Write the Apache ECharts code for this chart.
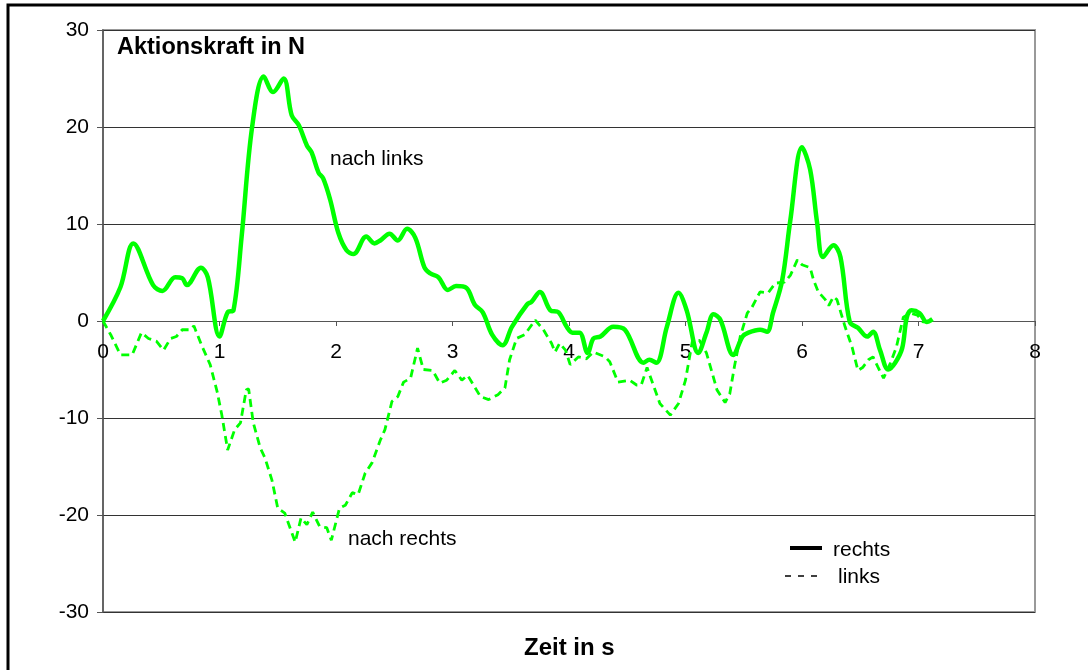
<!DOCTYPE html>
<html lang="de">
<head>
  <meta charset="UTF-8">
  <title>Aktionskraft in N</title>
  <script src="https://cdn.jsdelivr.net/npm/echarts@6/dist/echarts.min.js"></script>
  <style>
    body { margin: 0; padding: 0; background: #fff; }
    #chart { width: 1088px; height: 670px; }
  </style>
</head>
<body>
  <div id="chart"></div>
  <script>
    // Zeitachse (s) und Kraft (N)
    var timeRechts = [0, 0.15, 0.26, 0.43, 0.51, 0.62, 0.68, 0.72, 0.84, 0.90, 1.0, 1.07, 1.12, 1.19,
      1.28, 1.38, 1.46, 1.55, 1.62, 1.68, 1.75, 1.79, 1.85, 1.89, 1.95, 2.02, 2.09, 2.15, 2.26, 2.33,
      2.38, 2.46, 2.53, 2.61, 2.68, 2.76, 2.81, 2.88, 2.96, 3.03, 3.12, 3.19, 3.26, 3.34, 3.43, 3.51,
      3.64, 3.68, 3.75, 3.84, 3.91, 3.98, 4.03, 4.09, 4.16, 4.21, 4.27, 4.38, 4.48, 4.64, 4.69, 4.75,
      4.84, 4.94, 5.01, 5.11, 5.18, 5.24, 5.30, 5.41, 5.49, 5.54, 5.64, 5.70, 5.75, 5.83, 5.90, 6.0,
      6.07, 6.13, 6.18, 6.27, 6.33, 6.41, 6.48, 6.56, 6.61, 6.67, 6.74, 6.80, 6.86, 6.90, 6.94, 7.01,
      7.07, 7.12];
    var forceRechts = [0, 3.5, 8.0, 3.7, 3.1, 4.5, 4.4, 3.7, 5.5, 4.5, -1.6, 0.9, 1.1, 8.7,
      20, 25.2, 23.6, 25, 21.2, 20.2, 18.1, 17.4, 15.3, 14.7, 12.5, 9.1, 7.3, 6.9, 8.7, 8.0,
      8.3, 9.0, 8.3, 9.5, 8.6, 5.5, 4.9, 4.5, 3.2, 3.6, 3.4, 1.7, 0.9, -1.4, -2.5, -0.6,
      1.7, 2.0, 3.0, 1.1, 0.9, -0.6, -1.2, -1.2, -3.3, -1.8, -1.6, -0.6, -0.9, -4.3, -4.0, -4.3,
      -0.6, 2.9, 1.1, -3.3, -1.2, 0.7, 0.1, -3.5, -1.6, -1.2, -0.9, -1.1, 0.8, 4.2, 10.4, 17.9,
      15.6, 10.1, 6.6, 7.8, 6.6, -0.1, -0.7, -1.6, -1.1, -3.0, -5.0, -4.3, -2.8, 0.4, 1.1, 0.8,
      -0.1, 0.2];

    var timeLinks = [0, 0.07, 0.15, 0.25, 0.33, 0.39, 0.46, 0.52, 0.58, 0.63, 0.68, 0.75, 0.78, 0.85,
      0.92, 0.98, 1.02, 1.07, 1.13, 1.18, 1.23, 1.25, 1.29, 1.35, 1.39, 1.45, 1.50, 1.56, 1.65, 1.70,
      1.75, 1.80, 1.86, 1.92, 1.96, 2.03, 2.08, 2.14, 2.19, 2.25, 2.31, 2.38, 2.42, 2.48, 2.53, 2.58,
      2.64, 2.70, 2.75, 2.83, 2.89, 2.95, 3.02, 3.08, 3.13, 3.24, 3.31, 3.39, 3.45, 3.49, 3.55, 3.62,
      3.71, 3.78, 3.85, 3.88, 3.92, 3.97, 4.01, 4.08, 4.15, 4.21, 4.31, 4.35, 4.42, 4.52, 4.58, 4.62,
      4.67, 4.78, 4.87, 4.94, 5.0, 5.06, 5.12, 5.18, 5.27, 5.34, 5.38, 5.42, 5.47, 5.53, 5.57, 5.64,
      5.71, 5.77, 5.85, 5.90, 5.96, 6.0, 6.07, 6.10, 6.14, 6.20, 6.23, 6.27, 6.30, 6.37, 6.43, 6.48,
      6.52, 6.57, 6.61, 6.65, 6.70, 6.76, 6.81, 6.87, 6.93, 6.99, 7.04, 7.08];
    var forceLinks = [0, -1.5, -3.5, -3.5, -1.2, -1.8, -2.1, -3.0, -1.8, -1.6, -0.9, -0.9, -0.5, -2.6,
      -4.5, -7.3, -9.7, -13.3, -11.2, -10.5, -7.1, -7.0, -10.5, -13.1, -14.1, -16.4, -19.3, -19.8, -22.8, -20.3,
      -21.0, -19.7, -21.2, -21.3, -22.6, -19.3, -19.0, -17.7, -17.9, -15.7, -14.6, -12.3, -11.2, -8.3, -7.8, -6.3,
      -5.9, -2.8, -5.0, -5.1, -6.4, -6.1, -5.1, -6.1, -5.6, -7.8, -8.1, -7.6, -6.9, -4.0, -1.8, -1.4,
      0.1, -0.9, -2.3, -3.2, -2.3, -3.0, -4.5, -3.7, -3.9, -3.2, -3.7, -4.2, -6.3, -6.1, -6.6, -6.6,
      -4.8, -8.5, -9.7, -8.5, -6.1, -2.0, -2.0, -3.3, -7.1, -8.4, -7.5, -4.7, -1.6, 0.8, 1.4, 3.0,
      2.9, 3.9, 4.0, 4.7, 6.3, 5.8, 5.5, 4.2, 3.0, 2.2, 1.6, 2.5, 2.2, -0.6, -2.7, -5.1,
      -4.8, -4.0, -3.7, -4.7, -5.9, -4.3, -2.7, 0.4, 0.8, 0.6, -0.1, -0.1];

    var xTicks = [0, 1, 2, 3, 4, 5, 6, 7, 8];
    var yTicks = [-30, -20, -10, 0, 10, 20, 30];

    function zip(a, b) {
      return a.map(function (v, i) { return [v, b[i]]; });
    }

    var chart = echarts.init(document.getElementById('chart'));
    var font = '"Liberation Sans", Arial, sans-serif';
    var plotH = 670 - 30 - 58;

    var option = {
      animation: false,
      textStyle: { fontFamily: font },
      grid: {
        left: 103, right: 53, top: 30, bottom: 58,
        show: true, borderColor: '#999', borderWidth: 2
      },
      xAxis: {
        type: 'value',
        min: xTicks[0], max: xTicks[xTicks.length - 1], interval: 1,
        // x-Achse liegt auf der Nulllinie
        offset: -plotH / 2,
        axisLine: { onZero: false, lineStyle: { color: '#555', width: 1 } },
        axisTick: { show: true, length: 5, lineStyle: { color: '#555' } },
        axisLabel: { color: '#000', fontSize: 21, margin: 21 },
        splitLine: { show: false }
      },
      yAxis: {
        type: 'value',
        min: yTicks[0], max: yTicks[yTicks.length - 1], interval: 10,
        axisLine: { show: true, onZero: false, lineStyle: { color: '#555', width: 1.5 } },
        axisTick: { show: true, length: 6, lineStyle: { color: '#555' } },
        axisLabel: { color: '#000', fontSize: 21, margin: 14 },
        splitLine: { show: true, lineStyle: { color: '#333', width: 1 } }
      },
      graphic: [
        { type: 'rect', shape: { x: 8, y: 5, width: 1200, height: 800 },
          style: { fill: 'none', stroke: '#000', lineWidth: 3 }, silent: true },
        { type: 'text', left: 117, top: 36,
          style: { text: 'Aktionskraft in N', font: 'bold 23.5px ' + font, fill: '#000' } },
        { type: 'text', left: 330, top: 149,
          style: { text: 'nach links', font: '21px ' + font, fill: '#000' } },
        { type: 'text', left: 348, top: 529,
          style: { text: 'nach rechts', font: '21px ' + font, fill: '#000' } },
        { type: 'text', left: 524, top: 636,
          style: { text: 'Zeit in s', font: 'bold 24px ' + font, fill: '#000' } },
        // Legende
        { type: 'line', shape: { x1: 790, y1: 548, x2: 822, y2: 548 },
          style: { stroke: '#000', lineWidth: 4 } },
        { type: 'text', left: 833, top: 540,
          style: { text: 'rechts', font: '21px ' + font, fill: '#000' } },
        { type: 'line', shape: { x1: 785, y1: 576, x2: 818, y2: 576 },
          style: { stroke: '#000', lineWidth: 1.5, lineDash: [6, 7] } },
        { type: 'text', left: 838, top: 567,
          style: { text: 'links', font: '21px ' + font, fill: '#000' } }
      ],
      series: [
        {
          name: 'rechts',
          type: 'line',
          data: zip(timeRechts, forceRechts),
          showSymbol: false,
          symbol: 'none',
          smooth: 0.35,
          lineStyle: { color: '#00ff00', width: 4.5 },
          itemStyle: { color: '#00ff00' },
          z: 3
        },
        {
          name: 'links',
          type: 'line',
          data: zip(timeLinks, forceLinks),
          showSymbol: false,
          symbol: 'none',
          lineStyle: { color: '#00ff00', width: 2.8, type: [8, 5] },
          itemStyle: { color: '#00ff00' },
          z: 2
        }
      ]
    };

    chart.setOption(option);
  </script>
</body>
</html>
